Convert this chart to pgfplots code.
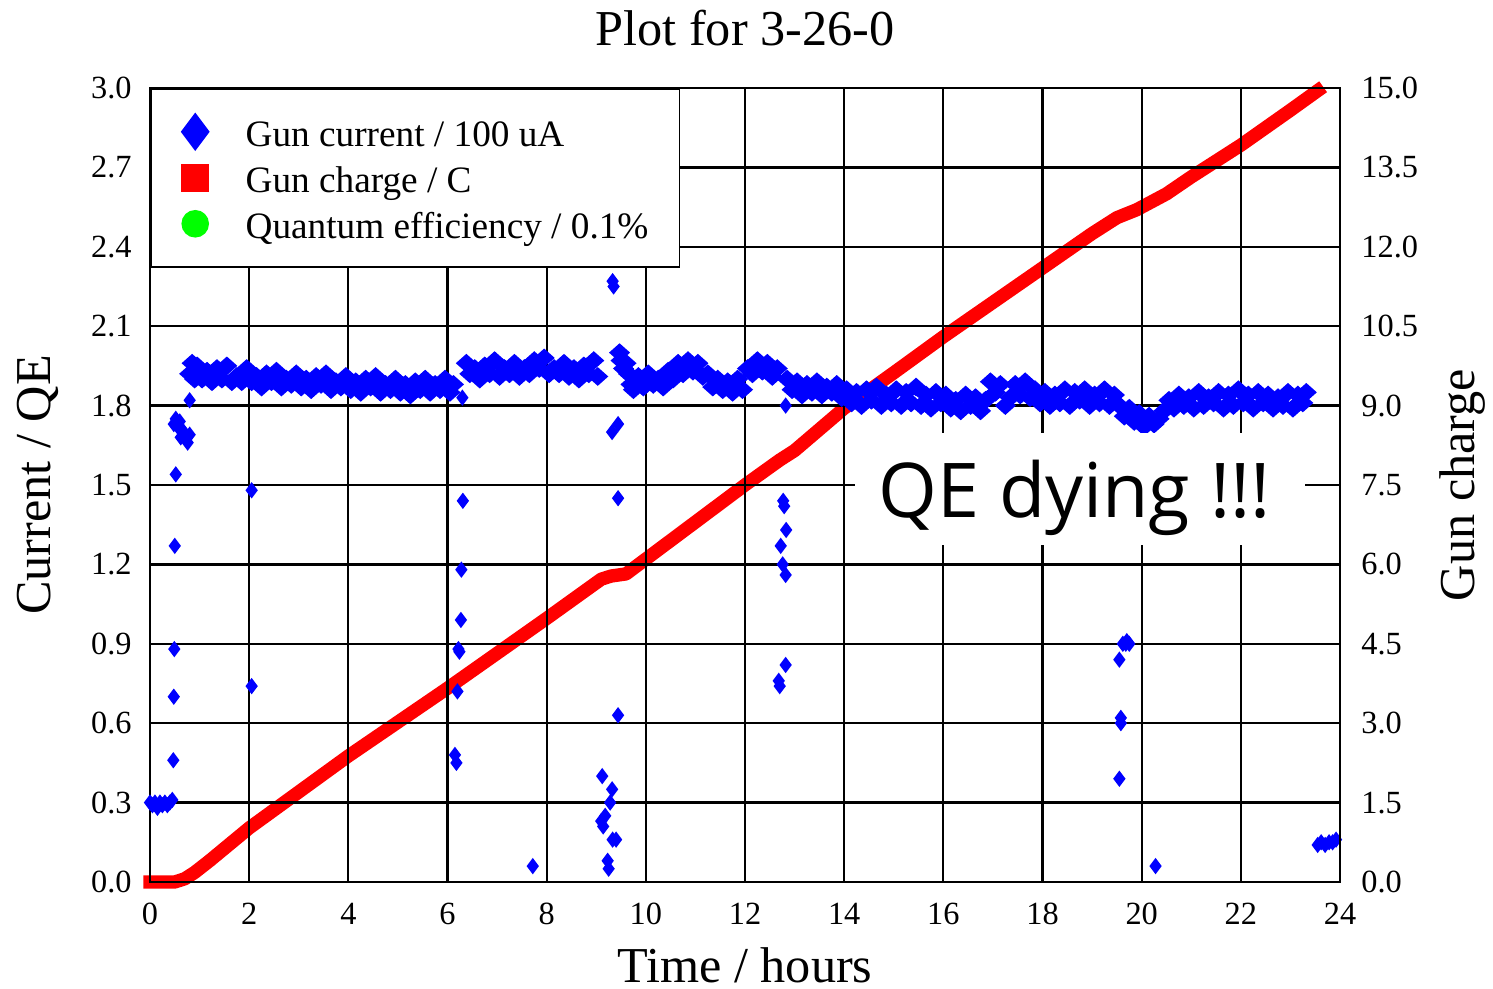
\documentclass[border=0pt]{standalone}
\usepackage{fontspec}
\setmainfont{Liberation Serif}
\newfontfamily\osans{Open Sans}
\usepackage{pgfplots}
\pgfplotsset{compat=1.18}
\begin{document}
\begin{tikzpicture}
\begin{axis}[
  name=main,
  scale only axis,
  width=11.9cm, height=7.94cm,
  xmin=0, xmax=24, ymin=0, ymax=3,
  xtick={0,2,4,6,8,10,12,14,16,18,20,22,24},
  ytick={0,0.3,0.6,0.9,1.2,1.5,1.8,2.1,2.4,2.7,3.0},
  yticklabel style={/pgf/number format/.cd, fixed, fixed zerofill, precision=1, /tikz/.cd, xshift=-0.06cm},
  xticklabel style={yshift=-0.09cm},
  tick label style={font=\fontsize{9.2}{11}\selectfont},
  /pgf/number format/assume math mode=true,
  grid=major,
  major grid style={black, line width=0.65pt},
  axis line style={black, line width=0.7pt},
  major tick length=0pt,
  axis on top,
  clip=false,
  title={Plot for 3-26-0},
  every axis title/.style={font=\fontsize{14.3}{17}\selectfont, at={(axis description cs:0.5,1)}, anchor=base, yshift=0.42cm},
  xlabel={Time / hours},
  xlabel style={font=\fontsize{14.3}{17}\selectfont, at={(axis description cs:0.5,-0.127)}, anchor=base},
  ylabel={Current / QE},
  ylabel style={font=\fontsize{14.3}{17}\selectfont, at={(axis description cs:-0.094,0.5)}, anchor=center},
  legend style={at={(0,1)}, anchor=north west, draw=black, line width=0.45pt, fill=white,
    inner xsep=0.31cm, inner ysep=0.22cm, font=\fontsize{10.6}{12}\selectfont,
    nodes={inner sep=0pt, text height=0.36cm, text depth=0.06cm}, row sep=0.04cm,
    /tikz/every odd column/.append style={column sep=0.37cm}},
  legend cell align=left,
]
\addlegendimage{only marks, mark=diamond*, mark size=5.1pt, color=blue}
\addlegendimage{only marks, mark=square*, mark size=3.7pt, color=red}
\addlegendimage{only marks, mark=*, mark size=3.7pt, color=green}
% Gun current / 100 uA : isolated readings
\addplot[forget plot, only marks, mark=diamond*, mark size=2pt, color=blue] table {
t y
0.00 0.30
0.05 0.29
0.10 0.30
0.15 0.28
0.20 0.30
0.25 0.29
0.30 0.30
0.35 0.29
0.40 0.30
0.45 0.31
0.47 0.46
0.48 0.70
0.49 0.88
0.50 1.27
0.52 1.54
0.48 1.73
0.52 1.75
0.56 1.72
0.60 1.74
0.64 1.71
0.68 1.70
0.72 1.68
0.76 1.66
0.80 1.69
0.62 1.68
0.80 1.82
2.05 1.48
2.05 0.74
6.30 1.83
6.31 1.44
6.28 1.18
6.27 0.99
6.24 0.87
6.22 0.88
6.20 0.72
6.15 0.48
6.18 0.45
7.72 0.06
9.12 0.40
9.32 0.35
9.28 0.30
9.10 0.23
9.14 0.21
9.18 0.25
9.33 0.16
9.40 0.16
9.23 0.08
9.25 0.05
9.33 2.27
9.35 2.25
9.32 1.70
9.44 1.73
9.44 1.45
9.44 0.63
12.82 1.80
12.77 1.44
12.79 1.42
12.83 1.33
12.72 1.27
12.76 1.20
12.82 1.16
12.82 0.82
12.68 0.76
12.70 0.74
19.55 0.39
19.58 0.60
19.58 0.62
19.55 0.84
19.62 0.90
19.68 0.90
19.75 0.90
19.70 0.91
20.28 0.06
23.55 0.14
23.62 0.15
23.70 0.14
23.78 0.15
23.85 0.15
23.92 0.16
};
% Gun current / 100 uA : steady running
\addplot[forget plot, only marks, mark=diamond*, mark size=2.4pt, mark options={xscale=1.5}, color=blue] table {
t y
0.80 1.92
0.85 1.96
0.90 1.90
0.95 1.95
1.05 1.90
1.15 1.93
1.25 1.89
1.35 1.94
1.45 1.90
1.55 1.95
1.65 1.89
1.75 1.91
1.85 1.89
1.95 1.94
2.05 1.89
2.15 1.91
2.25 1.87
2.35 1.92
2.45 1.89
2.55 1.93
2.65 1.87
2.75 1.90
2.85 1.88
2.95 1.92
3.05 1.87
3.15 1.90
3.25 1.86
3.35 1.91
3.45 1.88
3.55 1.92
3.65 1.86
3.75 1.89
3.85 1.87
3.95 1.91
4.05 1.86
4.15 1.89
4.25 1.85
4.35 1.90
4.45 1.87
4.55 1.91
4.65 1.85
4.75 1.88
4.85 1.86
4.95 1.90
5.05 1.85
5.15 1.88
5.25 1.84
5.35 1.89
5.45 1.86
5.55 1.90
5.65 1.85
5.75 1.88
5.85 1.86
5.95 1.90
6.05 1.85
6.12 1.88
6.38 1.96
6.45 1.92
6.55 1.94
6.65 1.90
6.75 1.95
6.85 1.92
6.95 1.97
7.05 1.91
7.15 1.94
7.25 1.92
7.35 1.96
7.45 1.91
7.55 1.94
7.65 1.92
7.75 1.97
7.85 1.94
7.95 1.98
8.05 1.92
8.15 1.94
8.25 1.92
8.35 1.96
8.45 1.91
8.55 1.94
8.65 1.90
8.75 1.95
8.85 1.92
8.95 1.97
9.03 1.91
9.47 2.00
9.50 1.97
9.55 1.94
9.60 1.96
9.65 1.92
9.70 1.88
9.75 1.86
9.85 1.91
9.95 1.87
10.05 1.92
10.15 1.88
10.25 1.90
10.35 1.87
10.45 1.93
10.55 1.90
10.65 1.96
10.75 1.92
10.85 1.97
10.95 1.93
11.05 1.96
11.15 1.91
11.25 1.92
11.35 1.87
11.45 1.90
11.55 1.86
11.65 1.89
11.75 1.85
11.85 1.90
11.95 1.86
12.05 1.94
12.15 1.92
12.25 1.97
12.35 1.93
12.45 1.96
12.55 1.91
12.65 1.94
12.85 1.90
12.95 1.86
13.05 1.89
13.15 1.84
13.25 1.88
13.35 1.85
13.45 1.89
13.55 1.84
13.65 1.87
13.75 1.85
13.85 1.88
13.95 1.83
14.05 1.86
14.15 1.81
14.25 1.85
14.35 1.80
14.45 1.86
14.55 1.82
14.65 1.87
14.75 1.80
14.85 1.84
14.95 1.81
15.05 1.86
15.15 1.80
15.25 1.85
15.35 1.81
15.45 1.87
15.55 1.80
15.65 1.84
15.75 1.79
15.85 1.85
15.95 1.81
16.05 1.84
16.15 1.79
16.25 1.82
16.35 1.78
16.45 1.84
16.55 1.80
16.65 1.83
16.75 1.78
16.85 1.82
16.95 1.89
17.05 1.85
17.15 1.88
17.25 1.80
17.35 1.83
17.45 1.88
17.55 1.84
17.65 1.89
17.75 1.83
17.85 1.86
17.95 1.81
18.05 1.85
18.15 1.80
18.25 1.84
18.35 1.81
18.45 1.86
18.55 1.80
18.65 1.85
18.75 1.82
18.85 1.86
18.95 1.80
19.05 1.84
19.15 1.81
19.25 1.86
19.35 1.80
19.45 1.84
19.55 1.80
19.65 1.76
19.75 1.79
19.85 1.74
19.95 1.77
20.05 1.72
20.15 1.76
20.25 1.73
20.35 1.75
20.45 1.78
20.55 1.82
20.65 1.79
20.75 1.84
20.85 1.80
20.95 1.83
21.05 1.79
21.15 1.85
21.25 1.80
21.35 1.83
21.45 1.81
21.55 1.85
21.65 1.79
21.75 1.84
21.85 1.80
21.95 1.86
22.05 1.81
22.15 1.84
22.25 1.79
22.35 1.85
22.45 1.81
22.55 1.84
22.65 1.79
22.75 1.83
22.85 1.80
22.95 1.85
23.05 1.79
23.15 1.84
23.25 1.81
23.32 1.85
};
% Gun charge / C (right-hand scale: 15 C = 3.0)
\addplot[forget plot, red, line width=3.8pt, line join=round, line cap=rect] table[x=t, y expr=\thisrow{C}/5] {
t C
0.0 0.0
0.5 0.0
0.7 0.06
0.9 0.18
1.2 0.40
2.0 1.02
3.0 1.70
4.0 2.38
5.0 3.02
6.0 3.66
7.0 4.32
8.0 4.98
9.1 5.72
9.3 5.78
9.6 5.82
10.0 6.10
11.0 6.80
12.0 7.50
12.7 7.97
13.0 8.15
14.0 8.95
15.0 9.62
16.0 10.30
17.0 10.95
18.0 11.60
19.0 12.25
19.5 12.55
19.9 12.70
20.5 13.00
21.0 13.32
22.0 13.92
23.0 14.58
23.55 14.95
};
\legend{Gun current / 100 uA, Gun charge / C, Quantum efficiency / 0.1\%}
\end{axis}
\begin{axis}[
  scale only axis, width=11.9cm, height=7.94cm,
  at={(main.south west)}, anchor=south west,
  xmin=0, xmax=24, ymin=0, ymax=15,
  axis x line=none, axis y line*=right,
  ytick={0,1.5,3,4.5,6,7.5,9,10.5,12,13.5,15},
  yticklabel style={/pgf/number format/.cd, fixed, fixed zerofill, precision=1, /tikz/.cd, xshift=0.09cm},
  tick label style={font=\fontsize{9.2}{11}\selectfont},
  /pgf/number format/assume math mode=true,
  ylabel={Gun charge},
  ylabel style={font=\fontsize{14.3}{17}\selectfont, at={(axis description cs:1.1025,0.5)}, anchor=center},
  major tick length=0pt,
  axis line style={black, line width=0.7pt},
  clip=false,
]
\addplot[draw=none, forget plot] coordinates {(0,0)};
\node[fill=white, inner sep=0pt, minimum width=4.5cm, minimum height=1.12cm] at (axis cs:18.76,7.425) {};
\node[anchor=base west, inner sep=0pt, font=\osans\fontsize{21.5}{25}\selectfont] at (axis cs:14.68,6.895) {QE dying !!!};
\end{axis}
\pgfresetboundingbox
\path[use as bounding box] ([xshift=-1.5cm,yshift=-1.07cm]main.south west) rectangle ([xshift=1.53cm,yshift=0.88cm]main.north east);
\end{tikzpicture}
\end{document}
